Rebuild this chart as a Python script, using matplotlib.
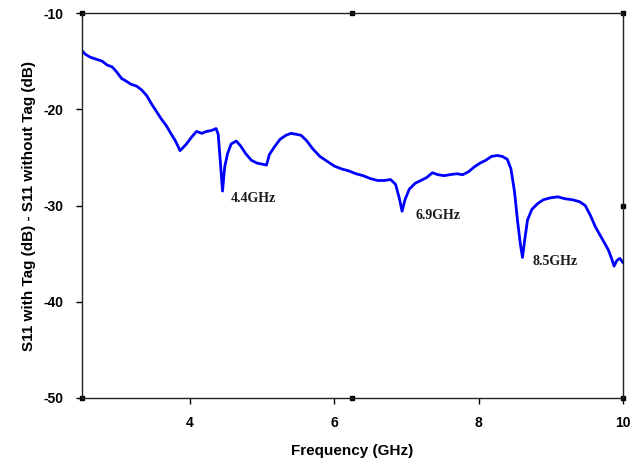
import matplotlib.pyplot as plt

# values
freq = [2.50, 2.55, 2.62, 2.70, 2.78, 2.85, 2.92, 2.98, 3.05, 3.12, 3.18, 3.26, 3.33,
        3.40, 3.47, 3.54, 3.60, 3.67, 3.74, 3.79, 3.83, 3.86, 3.90, 3.95, 4.02,
        4.09, 4.16, 4.23, 4.30, 4.36, 4.39, 4.42, 4.45, 4.48, 4.52, 4.57, 4.64,
        4.70, 4.77, 4.85, 4.93, 5.00, 5.06, 5.10, 5.17, 5.25, 5.33, 5.40, 5.47,
        5.54, 5.62, 5.70, 5.80, 5.90, 6.00, 6.10, 6.20, 6.30, 6.40, 6.50, 6.60,
        6.70, 6.78, 6.85, 6.90, 6.94, 6.98, 7.04, 7.12, 7.20, 7.28, 7.36, 7.44,
        7.52, 7.60, 7.70, 7.78, 7.86, 7.94, 8.02, 8.10, 8.18, 8.26, 8.33, 8.40,
        8.45, 8.50, 8.54, 8.58, 8.61, 8.64, 8.68, 8.74, 8.82, 8.90, 9.00, 9.10,
        9.20, 9.30, 9.40, 9.48, 9.55, 9.62, 9.68, 9.74, 9.80, 9.85, 9.88, 9.92,
        9.96, 10.00]
s11diff = [-13.9, -14.3, -14.6, -14.8, -15.0, -15.4, -15.6, -16.1, -16.8, -17.1, -17.4, -17.6, -18.0,
           -18.6, -19.5, -20.3, -21.0, -21.7, -22.6, -23.2, -23.8, -24.3, -24.0, -23.6, -22.9,
           -22.3, -22.5, -22.3, -22.2, -22.0, -22.6, -25.5, -28.5, -26.0, -24.6, -23.6, -23.3,
           -23.8, -24.6, -25.3, -25.6, -25.7, -25.8, -24.7, -23.9, -23.1, -22.7, -22.5, -22.6,
           -22.7, -23.3, -24.1, -24.9, -25.4, -25.9, -26.2, -26.4, -26.7, -26.9, -27.2, -27.4,
           -27.4, -27.3, -27.8, -29.2, -30.6, -29.4, -28.3, -27.7, -27.4, -27.1, -26.6, -26.8,
           -26.9, -26.8, -26.7, -26.8, -26.5, -26.0, -25.6, -25.3, -24.9, -24.8, -24.9, -25.2,
           -26.2, -28.6, -31.5, -34.0, -35.4, -33.6, -31.5, -30.4, -29.8, -29.4, -29.2, -29.1,
           -29.3, -29.4, -29.6, -30.0, -31.0, -32.2, -33.0, -33.8, -34.6, -35.6, -36.3, -35.7,
           -35.5, -35.9]

notes = ['4.4GHz', '6.9GHz', '8.5GHz']
note_x = [4.57, 7.12, 8.75]
note_y = [-29.3, -31.0, -35.8]

plt.rcParams['font.family'] = ['Liberation Sans', 'DejaVu Sans']
plt.rcParams['axes.unicode_minus'] = False

fig = plt.figure(figsize=(6.4, 4.66), dpi=100)
ax = fig.add_axes([0.128, 0.146, 0.845, 0.826])

ax.plot(freq, s11diff, color='#0000ff', linewidth=2.0)

for t, x, y in zip(notes, note_x, note_y):
    ax.text(x, y, t, fontsize=10, fontweight='bold', family='Liberation Serif',
            va='center', ha='left', color='#1a1a1a')

ax.set_xlim(2.5, 10)
ax.set_ylim(-50, -10)
ax.set_xticks([4, 6, 8, 10])
ax.set_yticks([-10, -20, -30, -40, -50])
ax.tick_params(direction='out', length=4, width=1, labelsize=10, pad=9)
for lbl in ax.get_xticklabels() + ax.get_yticklabels():
    lbl.set_fontweight('bold')

for s in ax.spines.values():
    s.set_linewidth(1.0)
    s.set_color('#222222')

# little corner squares the source program leaves behind
ax.plot([2.5, 6.25, 10, 2.5, 6.25, 10, 10], [-50, -50, -50, -10, -10, -10, -30],
        linestyle='none', marker='s', markersize=3, color='black', clip_on=False)

ax.set_xlabel('Frequency (GHz)', fontsize=11, fontweight='bold', labelpad=10)
ax.set_ylabel('S11 with Tag (dB) - S11 without Tag (dB)', fontsize=11,
              fontweight='bold', labelpad=6)

fig.savefig('out.png', dpi=100)
